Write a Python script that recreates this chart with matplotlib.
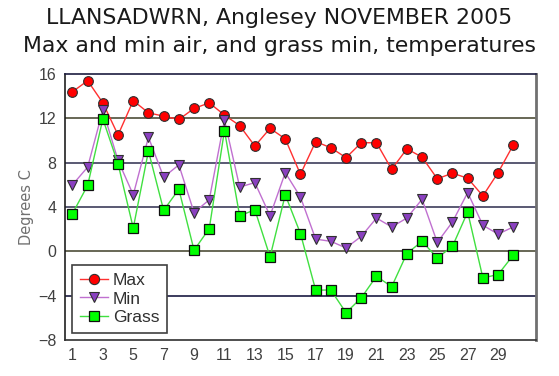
import numpy as np
import matplotlib.pyplot as plt

# Daily values, November 2005
days = np.arange(1, 31)
tmax = [14.4, 15.4, 13.4, 10.5, 13.6, 12.5, 12.2, 11.9, 12.9, 13.4,
        12.3, 11.35, 9.5, 11.1, 10.15, 6.95, 9.9, 9.35, 8.45, 9.8,
        9.8, 7.4, 9.25, 8.5, 6.55, 7.05, 6.6, 5.0, 7.1, 9.6]
tmin = [6.0, 7.6, 12.75, 8.2, 5.1, 10.3, 6.7, 7.8, 3.5, 4.65,
        11.85, 5.8, 6.2, 3.2, 7.1, 4.9, 1.1, 0.9, 0.3, 1.35,
        3.0, 2.2, 3.0, 4.7, 0.8, 2.65, 5.3, 2.35, 1.55, 2.2]
grass = [3.4, 5.95, 11.95, 7.9, 2.1, 9.05, 3.7, 5.6, 0.1, 2.05,
         10.9, 3.2, 3.75, -0.5, 5.1, 1.6, -3.5, -3.5, -5.55, -4.2,
         -2.25, -3.2, -0.2, 0.9, -0.6, 0.45, 3.55, -2.4, -2.1, -0.35]
yticks = [-8, -4, 0, 4, 8, 12, 16]
xticks = list(range(1, 30, 2))

fig = plt.figure(figsize=(5.59, 3.76), dpi=100)
ax = fig.add_axes([0.116, 0.096, 0.843, 0.707])

fig.text(0.5, 0.951, 'LLANSADWRN, Anglesey NOVEMBER 2005', ha='center', va='center',
         fontsize=15.8, color='#1a1a1a')
fig.text(0.5, 0.878, 'Max and min air, and grass min, temperatures', ha='center',
         va='center', fontsize=15.8, color='#1a1a1a')

# horizontal grid lines
for y, c in [(12, '#5c5c48'), (8, '#4c4c68'), (4, '#4c4c68'), (0, '#5c5c48'), (-4, '#2c2c50')]:
    ax.axhline(y, color=c, linewidth=1.3, zorder=1)

ax.plot(days, tmax, color='#ff3030', linewidth=1, marker='o', markersize=7,
        markerfacecolor='#ff0000', markeredgecolor='#303030', markeredgewidth=0.8,
        label='Max', zorder=3)
ax.plot(days, tmin, color='#c070d0', linewidth=1, marker='v', markersize=7.5,
        markerfacecolor='#8a40c0', markeredgecolor='#303030', markeredgewidth=0.8,
        label='Min', zorder=3)
ax.plot(days, grass, color='#40e040', linewidth=1, marker='s', markersize=7,
        markerfacecolor='#00ff00', markeredgecolor='#101010', markeredgewidth=0.9,
        label='Grass', zorder=3)

ax.set_xlim(0.5, 31.5)
ax.set_ylim(-8, 16)
ax.set_yticks(yticks)
ax.set_xticks(xticks)
ax.tick_params(length=0, labelsize=11.5, labelcolor='#404040', pad=6)
for lab in ax.get_xticklabels() + ax.get_yticklabels():
    lab.set_family('Liberation Sans')
ax.set_ylabel('Degrees C', fontsize=10.5, color='#707070', labelpad=3)

ax.spines['left'].set_color('#202020')
ax.spines['bottom'].set_color('#303030')
ax.spines['top'].set_color('#1c1c40')
ax.spines['right'].set_color('#707070')
ax.spines['right'].set_linewidth(2)
for s in ['left', 'bottom', 'top']:
    ax.spines[s].set_linewidth(1.2)

leg = ax.legend(loc='lower left', bbox_to_anchor=(0.015, 0.026), borderaxespad=0,
                fancybox=False, framealpha=1, edgecolor='#404040', borderpad=0.45,
                handlelength=1.6, handletextpad=0.3, labelspacing=0.2,
                markerscale=1.05, prop={'family': 'Liberation Sans', 'size': 12.5})
leg.get_frame().set_linewidth(1.2)
for t in leg.get_texts():
    t.set_color('#303030')

fig.savefig('out.png', dpi=100)
